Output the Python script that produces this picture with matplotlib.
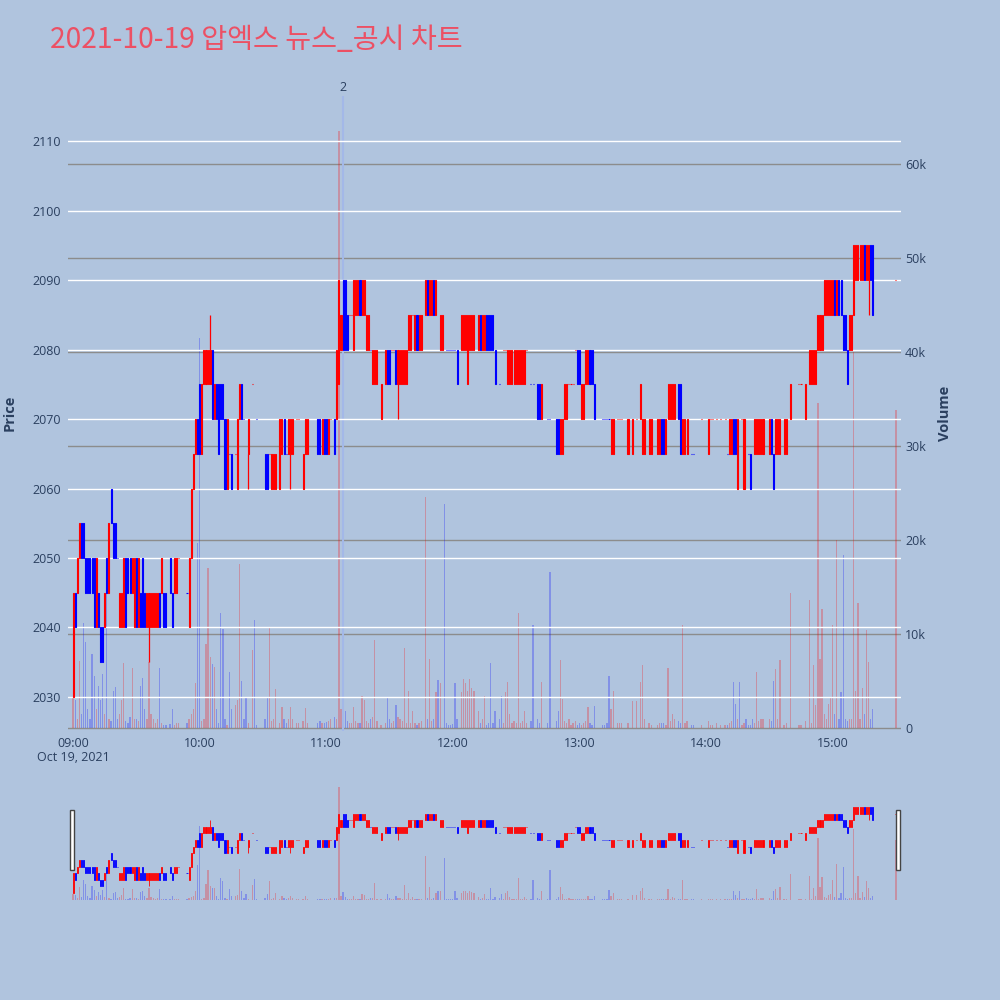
import numpy as np
import matplotlib.pyplot as plt
from matplotlib.patches import Rectangle
from matplotlib.transforms import blended_transform_factory

plt.rcParams['font.family'] = ['Open Sans', 'DejaVu Sans']

TITLE = "2021-10-19 압엑스 뉴스_공시 차트"

# one entry per minute from 09:00 (None = no trade in that minute)
opens = [
    # 09:00
    2030, 2045, 2045, 2050, 2055, 2055, 2050, 2050, 2050, 2050,
    2050, 2040, 2045, 2040, 2040, 2040, 2050, 2045, 2060, 2055,
    2055, 2050, 2040, 2040, 2040, 2050, 2050, 2050, 2045, 2040,
    2050, 2040, 2045, 2050, 2045, 2040, 2040, 2040, 2040, 2040,
    2040, 2045, 2045, 2045, 2045, None, 2050, 2045, 2045, 2045,
    2050, None, None, None, 2045, 2040, 2050, 2060, 2065, 2070,
    # 10:00
    2075, 2065, 2075, 2075, 2075, 2075, 2080, 2070, 2075, 2075,
    2075, 2075, 2070, 2060, 2065, 2065, None, 2065, 2060, 2070,
    2075, 2070, None, 2065, None, 2075, None, 2070, None, None,
    None, 2065, 2065, 2065, 2060, 2060, 2060, None, 2060, 2065,
    2070, 2065, 2065, 2065, 2065, None, 2070, 2070, None, 2060,
    2065, 2065, None, None, None, None, 2070, 2070, 2065, 2070,
    # 11:00
    2070, 2065, 2070, None, 2070, 2070, 2075, 2080, 2090, 2090,
    2085, 2085, 2085, 2080, 2085, 2085, 2090, 2085, 2085, 2080,
    2080, 2080, 2075, 2075, 2075, None, 2070, None, 2075, 2080,
    2080, 2080, 2080, 2080, 2075, 2075, 2075, 2075, 2075, 2080,
    2080, 2085, 2080, 2085, 2080, 2080, None, 2085, 2090, 2085,
    2085, 2090, 2085, None, 2080, 2080, None, 2080, 2080, 2080,
    # 12:00
    2080, 2080, 2080, None, 2080, 2080, 2080, 2075, 2080, 2080,
    2080, None, 2080, 2085, 2080, 2080, 2085, 2085, 2085, 2085,
    2080, None, 2075, None, 2080, 2080, 2075, 2075, 2075, 2075,
    2075, 2075, 2075, 2075, 2075, 2080, None, 2075, 2075, None,
    2075, 2075, 2070, None, None, 2070, 2070, None, None, 2070,
    2070, 2065, 2065, 2070, 2070, 2075, 2075, 2075, 2080, 2080,
    # 13:00
    2080, 2070, 2070, 2075, 2075, 2080, 2080, 2075, None, None,
    None, 2070, 2070, 2070, 2070, 2065, 2065, None, 2070, 2070,
    2070, None, None, 2065, None, 2065, None, 2070, None, 2070,
    2065, 2065, None, 2065, 2065, None, None, 2065, 2065, 2070,
    2070, 2065, 2070, 2070, 2070, 2070, None, 2075, 2075, 2065,
    2065, 2065, None, 2065, 2065, None, None, None, 2070, None,
    # 14:00
    None, 2065, 2070, 2070, None, 2070, None, 2070, None, 2070,
    2065, 2065, 2065, 2070, 2070, 2060, None, 2070, 2060, None,
    2065, 2065, None, 2065, 2065, 2065, 2065, 2065, None, None,
    2065, 2070, 2065, 2065, 2065, 2065, None, 2065, 2065, None,
    2070, None, None, None, 2075, 2075, None, 2070, None, 2075,
    2075, 2075, 2075, 2080, 2080, 2080, 2085, 2085, 2085, 2085,
    # 15:00
    2085, 2090, 2085, 2090, 2090, 2085, 2085, 2080, 2080, 2080,
    2085, 2090, 2090, 2090, 2090, 2095, 2090, 2090, 2095, 2095,
    None, None, None, None, None, None, None, None, None, None,
    2090,
]

closes = [
    # 09:00
    2045, 2040, 2050, 2055, 2050, 2050, 2045, 2045, 2045, 2045,
    2040, 2050, 2040, 2035, 2035, 2045, 2045, 2055, 2055, 2050,
    2050, 2050, 2045, 2045, 2050, 2040, 2045, 2045, 2050, 2050,
    2040, 2050, 2040, 2040, 2040, 2045, 2045, 2045, 2045, 2045,
    2045, 2040, 2050, 2040, 2040, None, 2045, 2040, 2050, 2050,
    2050, None, None, None, 2045, 2050, 2060, 2065, 2070, 2065,
    # 10:00
    2065, 2075, 2080, 2080, 2080, 2080, 2070, 2075, 2070, 2065,
    2070, 2070, 2060, 2070, 2065, 2060, None, 2065, 2070, 2075,
    2070, 2070, None, 2070, None, 2075, None, 2070, None, None,
    None, 2060, 2060, 2065, 2065, 2065, 2065, None, 2070, 2070,
    2065, 2065, 2070, 2070, 2070, None, 2070, 2070, None, 2065,
    2070, 2070, None, None, None, None, 2065, 2065, 2070, 2065,
    # 11:00
    2065, 2070, 2070, None, 2065, 2080, 2090, 2085, 2080, 2080,
    2080, 2085, 2085, 2090, 2090, 2090, 2085, 2090, 2090, 2085,
    2085, 2080, 2080, 2080, 2080, None, 2075, None, 2080, 2075,
    2075, 2080, 2080, 2075, 2080, 2080, 2080, 2080, 2080, 2085,
    2085, 2085, 2085, 2080, 2085, 2085, None, 2090, 2085, 2090,
    2090, 2085, 2090, None, 2085, 2085, None, 2080, 2080, 2080,
    # 12:00
    2080, 2080, 2075, None, 2085, 2085, 2085, 2085, 2085, 2085,
    2085, None, 2085, 2080, 2085, 2085, 2080, 2080, 2080, 2080,
    2075, None, 2075, None, 2080, 2080, 2080, 2080, 2080, 2080,
    2080, 2080, 2080, 2080, 2080, 2080, None, 2075, 2075, None,
    2070, 2070, 2075, None, None, 2070, 2070, None, None, 2065,
    2065, 2070, 2070, 2075, 2075, 2075, 2075, 2075, 2080, 2075,
    # 13:00
    2075, 2075, 2075, 2080, 2080, 2075, 2075, 2070, None, None,
    None, 2070, 2070, 2070, 2070, 2070, 2070, None, 2070, 2070,
    2070, None, None, 2070, None, 2070, None, 2070, None, 2075,
    2070, 2070, None, 2070, 2070, None, None, 2070, 2070, 2065,
    2065, 2070, 2075, 2075, 2075, 2075, None, 2070, 2065, 2070,
    2070, 2070, None, 2065, 2065, None, None, None, 2070, None,
    # 14:00
    None, 2070, 2070, 2070, None, 2070, None, 2070, None, 2070,
    2065, 2070, 2070, 2065, 2065, 2070, None, 2070, 2070, None,
    2065, 2060, None, 2070, 2070, 2070, 2070, 2070, None, None,
    2070, 2065, 2060, 2070, 2070, 2070, None, 2070, 2070, None,
    2075, None, None, None, 2075, 2075, None, 2075, None, 2080,
    2080, 2080, 2080, 2085, 2085, 2085, 2090, 2090, 2090, 2090,
    # 15:00
    2090, 2085, 2090, 2085, 2085, 2080, 2080, 2075, 2085, 2085,
    2095, 2095, 2095, 2095, 2095, 2090, 2095, 2095, 2090, 2085,
    None, None, None, None, None, None, None, None, None, None,
    2090,
]

# wicks sticking out of the bodies
low_wick_min = [36, 83, 103, 154, 377]
low_wick_val = [2035, 2060, 2060, 2070, 2085]
high_wick_min = [65]
high_wick_val = [2085]

# volume per minute, in thousands
volume_k = [
    # 09:00
    3.2, 3.0, 1.0, 7.1, 1.5, 11.2, 9.2, 2.0, 1.0, 7.9,
    5.5, 2.0, 4.5, 3.0, 5.8, 1.5, 17.5, 1.0, 0.8, 4.0,
    4.4, 1.0, 1.5, 3.0, 6.9, 0.8, 0.5, 1.2, 6.4, 1.0,
    1.0, 0.8, 4.5, 5.3, 2.0, 1.0, 7.0, 1.5, 1.0, 0.5,
    1.0, 6.4, 0.5, 0.3, 0.3, 0, 0.4, 2.0, 0.3, 0.5,
    0.5, 0, 0, 0, 0.5, 1.0, 1.5, 2.0, 4.8, 19.7,
    # 10:00
    41.5, 0.8, 1.0, 9.0, 17.0, 7.6, 6.8, 6.5, 2.0, 0.5,
    12.2, 10.5, 1.0, 0.3, 6.0, 2.0, 0, 2.5, 3.0, 17.5,
    5.0, 1.0, 3.3, 0.5, 0, 8.3, 11.5, 0.3, 0, 0,
    0, 1.0, 3.3, 10.6, 0.8, 1.0, 4.2, 0, 0.5, 2.2,
    1.0, 0.5, 1.0, 2.3, 1.0, 0, 0.5, 0.5, 0, 0.8,
    2.1, 0.6, 0, 0, 0, 0, 0.5, 0.8, 0.6, 0.6,
    # 11:00
    0.7, 0.8, 1.0, 0, 1.2, 1.0, 63.5, 2.0, 4.6, 1.8,
    0.8, 0.5, 0.5, 2.2, 0.8, 0.5, 0.5, 3.4, 3.0, 0.8,
    0.5, 1.0, 1.2, 9.4, 0.8, 0, 0.3, 0, 0.5, 3.3,
    1.0, 0.5, 0.8, 2.5, 1.2, 1.0, 0.8, 8.5, 0.5, 4.0,
    0.5, 1.8, 0.5, 0.3, 0.5, 0.8, 0, 24.6, 1.0, 7.4,
    0.8, 1.0, 3.8, 5.1, 4.8, 0, 23.8, 0.5, 0.3, 0.3,
    # 12:00
    0.4, 4.8, 1.0, 0, 3.8, 5.2, 4.8, 4.0, 5.2, 4.3,
    4.0, 0, 1.8, 0.5, 1.0, 3.4, 0.3, 0.5, 6.9, 0.5,
    1.8, 0, 1.0, 3.4, 0.5, 3.8, 4.9, 1.5, 0.5, 0.8,
    0.5, 12.2, 0.5, 0.8, 1.8, 0.5, 0, 0.8, 11.0, 0,
    1.0, 0.5, 4.9, 0, 0, 0.5, 16.6, 0, 0, 0.8,
    1.8, 7.2, 3.1, 0.8, 0.5, 1.0, 0.3, 0.5, 0.8, 0.3,
    # 13:00
    0.5, 0.3, 0.5, 0.8, 2.3, 0.5, 0.3, 2.4, 0, 0,
    0, 0.3, 0.3, 0.5, 5.5, 2.0, 4.0, 0, 0.5, 0.5,
    0.5, 0, 0, 0.5, 0, 2.9, 0, 2.9, 0, 4.9,
    6.7, 1.0, 0, 0.5, 0.3, 0, 0, 0.3, 0.5, 0.5,
    0.5, 0.3, 6.4, 0.8, 1.5, 1.0, 0, 0.8, 0.5, 11.0,
    0.5, 0.8, 0, 0.3, 0.3, 0, 0, 0, 0.3, 0,
    # 14:00
    0, 0.8, 0.3, 0.3, 0, 0.5, 0, 0.3, 0, 0.3,
    0.3, 0.5, 0.8, 4.9, 2.6, 1.0, 4.9, 0.3, 0.5, 1.0,
    0.3, 0.3, 1.0, 0.5, 6.0, 0.8, 1.0, 1.0, 0, 0,
    1.0, 0.8, 5.0, 6.3, 1.0, 7.2, 0, 0.3, 0.5, 0,
    14.4, 0, 0, 0, 0.3, 0.3, 0, 0.8, 0, 13.6,
    0.5, 6.7, 2.5, 34.6, 7.4, 12.7, 1.5, 1.0, 2.6, 3.3,
    # 15:00
    11.0, 1.5, 20.0, 1.0, 3.8, 18.4, 1.0, 0.8, 1.0, 1.0,
    40.0, 4.0, 13.3, 1.0, 4.3, 1.5, 10.4, 7.0, 1.0, 2.0,
    0, 0, 0, 0, 0, 0, 0, 0, 0, 0,
    33.8,
]

hour_ticks = [0, 60, 120, 180, 240, 300, 360]
hour_labels = ["09:00", "10:00", "11:00", "12:00", "13:00", "14:00", "15:00"]
price_ticks = [2030, 2040, 2050, 2060, 2070, 2080, 2090, 2100, 2110]
vol_ticks = [0, 10, 20, 30, 40, 50, 60]
vol_labels = ["0", "10k", "20k", "30k", "40k", "50k", "60k"]

news_minute = 128
news_label = "2"

UP = "#FF0000"
DOWN = "#0000FF"
BG = "#B0C4DE"
PLOT_BG = "#E5ECF6"
TXT = "#2a3f5f"


def candle_colors(o, c):
    # red when price goes up, blue when down; flat minutes follow the previous close
    cols = []
    prev_close = None
    prev_col = UP
    for oi, ci in zip(o, c):
        if np.isnan(oi):
            cols.append(DOWN)
            continue
        if ci > oi:
            col = UP
        elif ci < oi:
            col = DOWN
        elif prev_close is None or ci == prev_close:
            col = prev_col
        else:
            col = UP if ci > prev_close else DOWN
        cols.append(col)
        prev_close = ci
        prev_col = col
    return cols


def draw_panel(ax, ax_vol, x, o, c, cols, body_w, body_lw, wick_lw):
    ok = ~np.isnan(o)
    lo = np.minimum(o, c)
    hi = np.maximum(o, c)

    ax_vol.bar(x, volume_k, width=0.6, color=cols, alpha=0.26, linewidth=0)

    for m, v in zip(low_wick_min, low_wick_val):
        ax.vlines(m, v, lo[m], color=cols[m], linewidth=wick_lw)
    for m, v in zip(high_wick_min, high_wick_val):
        ax.vlines(m, hi[m], v, color=cols[m], linewidth=wick_lw)

    ok_cols = [col for col, k in zip(cols, ok) if k]
    ax.bar(x[ok], (hi - lo)[ok], bottom=lo[ok], width=body_w,
           color=ok_cols, edgecolor=ok_cols, linewidth=body_lw)


def main():
    x = np.arange(len(opens))
    o = np.array(opens, dtype=float)
    c = np.array(closes, dtype=float)
    cols = candle_colors(o, c)

    fig = plt.figure(figsize=(10, 10), dpi=100)
    fig.patch.set_facecolor(BG)

    # main chart
    ax = fig.add_axes([0.068, 0.269, 0.833, 0.635])
    ax_vol = ax.twinx()
    ax.set_zorder(ax_vol.get_zorder() + 1)
    ax.patch.set_visible(False)
    ax_vol.set_facecolor(PLOT_BG)

    draw_panel(ax, ax_vol, x, o, c, cols, body_w=0.5, body_lw=0.8, wick_lw=0.9)

    ax.axvline(news_minute, color="#A3B8E8", linewidth=1.5, zorder=0.5)
    tr = blended_transform_factory(ax.transData, ax.transAxes)
    ax.text(news_minute, 1.003, news_label, transform=tr, ha="center", va="bottom",
            fontsize=9, color=TXT)

    ax.set_xlim(-2.4, 392.4)
    ax.set_ylim(2025.1, 2116.5)
    ax_vol.set_ylim(-0.3, 67.2)

    ax.set_xticks(hour_ticks)
    ax.set_xticklabels(hour_labels)
    ax.set_yticks(price_ticks)
    ax_vol.set_yticks(vol_ticks)
    ax_vol.set_yticklabels(vol_labels)

    ax.grid(axis="y", color="white", linewidth=1.0)
    ax.grid(axis="x", visible=False)
    ax_vol.grid(axis="y", color="#8c8c8c", linewidth=1.0)
    ax.set_axisbelow(True)
    ax_vol.set_axisbelow(True)

    ax.tick_params(axis="x", length=0, pad=4, labelsize=9, labelcolor=TXT)
    ax.tick_params(axis="y", length=0, pad=5, labelsize=9, labelcolor=TXT)
    ax_vol.tick_params(axis="y", length=0, pad=3, labelsize=9, labelcolor=TXT)
    for a in (ax, ax_vol):
        for s in a.spines.values():
            s.set_visible(False)

    ax.text(0, -0.041, "Oct 19, 2021", transform=tr, ha="center", va="center",
            fontsize=9, color=TXT)

    fig.text(0.010, 0.587, "Price", rotation=90, ha="center", va="center",
             fontsize=10.5, fontweight="bold", color=TXT)
    fig.text(0.945, 0.587, "Volume", rotation=90, ha="center", va="center",
             fontsize=10.5, fontweight="bold", color=TXT)
    fig.text(0.05, 0.96, TITLE, ha="left", va="center", fontsize=20.3,
             color="#EC5064", family=["Noto Sans CJK KR", "DejaVu Sans"])

    # range slider
    sl = fig.add_axes([0.072, 0.100, 0.825, 0.120])
    sl_vol = sl.twinx()
    sl.set_zorder(sl_vol.get_zorder() + 1)
    sl.patch.set_visible(False)
    sl_vol.set_facecolor(PLOT_BG)
    draw_panel(sl, sl_vol, x, o, c, cols, body_w=0.5, body_lw=0.6, wick_lw=0.6)
    sl.set_xlim(-0.5, 390.5)
    sl.set_ylim(2024.7, 2115.4)
    sl_vol.set_ylim(0, 67.2)
    for a in (sl, sl_vol):
        a.set_xticks([])
        a.set_yticks([])
        for s in a.spines.values():
            s.set_visible(False)

    for hx in (0.0695, 0.8955):
        fig.patches.append(Rectangle((hx, 0.130), 0.004, 0.060, transform=fig.transFigure,
                                     facecolor="white", edgecolor="#444444", linewidth=1.0))

    fig.savefig("out.png", dpi=100, facecolor=BG)
    plt.close(fig)


if __name__ == "__main__":
    main()
